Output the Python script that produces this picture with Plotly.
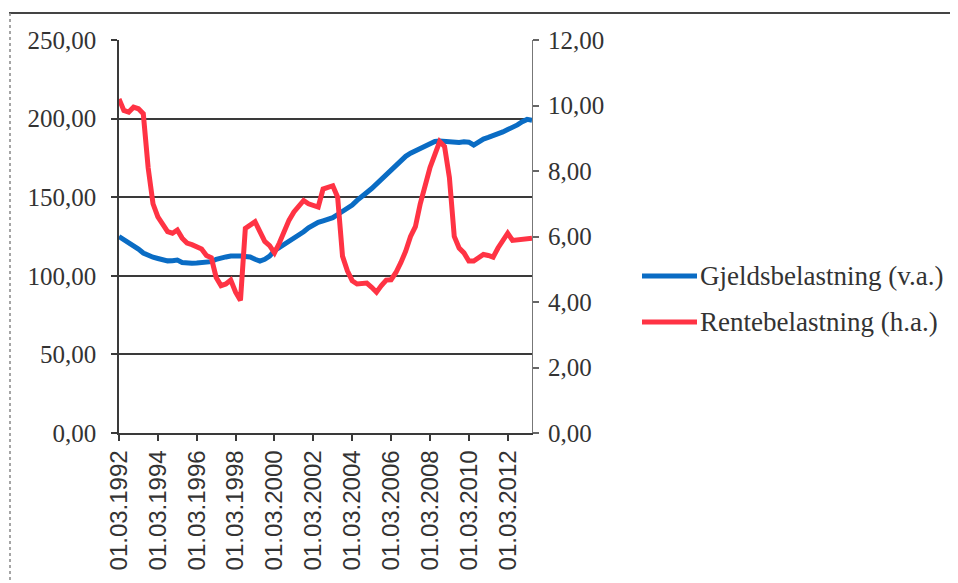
import plotly.graph_objects as go

# Quarterly category labels 01.03.1992 ... 01.06.2013
years = list(range(1992, 2014))
months = ["03", "06", "09", "12"]
categories = [f"01.{m}.{y}" for y in years for m in months][:86]

gjeld = [125, 123, 121, 119.5, 117, 114.5, 113, 111.8, 111, 110.2,
         109.5, 109.6, 110, 108.5, 108, 108, 108.1, 108.3, 108.6, 109,
         110.5, 111.5, 112, 112.6, 112.8, 112.6, 112.3, 112, 110.5, 109.4,
         110.5, 112.5, 116, 118, 120, 122, 124, 125.5, 128, 130.5,
         132.5, 134, 135, 136, 137, 139, 141, 143, 145, 148,
         151, 153, 155.5, 158.5, 161.5, 164.5, 166.5, 170, 173, 176,
         178, 179.5, 181.5, 183, 184.5, 185.5, 185.7, 185.3, 185, 184.5,
         184.8, 185.2, 185, 183.2, 185.5, 187, 188, 189, 190.5, 191.5,
         193, 194.2, 196, 198, 199.5, 199]

rente = [10.2, 9.85, 9.8, 9.95, 9.9, 9.75, 8.1, 7.0, 6.6, 6.35,
         6.15, 6.1, 6.2, 5.95, 5.8, 5.75, 5.68, 5.62, 5.42, 5.35,
         4.75, 4.5, 4.55, 4.67, 4.3, 4.05, 6.25, 6.35, 6.45, 6.15,
         5.85, 5.72, 5.5, 5.8, 6.15, 6.5, 6.75, 6.95, 7.1, 7.0,
         6.95, 6.9, 7.45, 7.5, 7.55, 7.2, 5.4, 4.95, 4.65, 4.55,
         4.55, 4.58, 4.45, 4.3, 4.5, 4.67, 4.68, 4.9, 5.2, 5.55,
         6.0, 6.3, 7.0, 7.6, 8.1, 8.5, 8.9, 8.75, 7.8, 6.0,
         5.65, 5.5, 5.25, 5.25, 5.37, 5.45, 5.42, 5.37, 5.65, 5.85,
         6.1, 5.88, 5.9, 5.93, 5.95, 5.95]

series_names = ["Gjeldsbelastning (v.a.)", "Rentebelastning (h.a.)"]
left_ticks = [0, 50, 100, 150, 200, 250]
right_ticks = [0, 2, 4, 6, 8, 10, 12]

BLUE = "#0a6cc4"
RED = "#ff3344"
GRID = "#3a3a3a"
TXT = "#333333"

# page offset (browser body margin)
OFF = 8
W, H = 958 - OFF, 583 - OFF
L, T = 119 - OFF, 40 - OFF
PW = 532 - 119
PH = 433 - 40
R = W - L - PW
B = H - T - PH


def px(xp):
    # xp: page pixel
    return (xp - 119) / PW


def py(yp):
    return (433 - yp) / PH


fig = go.Figure()
fig.add_trace(go.Scatter(x=categories, y=gjeld, mode="lines", name=series_names[0],
                         line=dict(color=BLUE, width=5), yaxis="y"))
fig.add_trace(go.Scatter(x=categories, y=rente, mode="lines", name=series_names[1],
                         line=dict(color=RED, width=5), yaxis="y2"))

tick_cats = categories[::8]

fig.update_layout(
    width=W, height=H,
    margin=dict(l=L, r=R, t=T, b=B, pad=0),
    paper_bgcolor="white", plot_bgcolor="white",
    separators=",.",
    showlegend=False,
    xaxis=dict(type="category", range=[0, len(categories) - 1],
               tickvals=tick_cats, ticktext=tick_cats, tickangle=-90,
               ticks="outside", ticklen=6, tickcolor=GRID, tickwidth=1.5,
               showline=True, linecolor=GRID, linewidth=1.5,
               showgrid=False, zeroline=False,
               tickfont=dict(family="Liberation Sans", size=24, color=TXT)),
    yaxis=dict(range=[0, 250], tickvals=left_ticks, tickformat=".2f",
               ticks="outside", ticklen=6, tickcolor=GRID, tickwidth=1.5,
               showline=True, linecolor=GRID, linewidth=1.5,
               showgrid=True, gridcolor=GRID, gridwidth=1.5, zeroline=False,
               ticklabelstandoff=10,
               tickfont=dict(family="Liberation Serif", size=25, color=TXT)),
    yaxis2=dict(range=[0, 12], tickvals=right_ticks, tickformat=".2f",
                overlaying="y", side="right", anchor="x",
                ticks="outside", ticklen=6, tickcolor="#666666", tickwidth=1.5,
                showline=True, linecolor="#777777", linewidth=1.2,
                showgrid=False, zeroline=False,
                ticklabelstandoff=4,
                tickfont=dict(family="Liberation Serif", size=25, color=TXT)),
)

# outer frame (top and left edges of the scanned chart box)
fig.add_shape(type="line", xref="paper", yref="paper",
              x0=px(9), x1=px(958), y0=py(13), y1=py(13),
              line=dict(color="#444444", width=2))
fig.add_shape(type="line", xref="paper", yref="paper",
              x0=px(10), x1=px(10), y0=py(13), y1=py(583),
              line=dict(color="#888888", width=1.5, dash="dot"))

# manual legend
for name, color, yp in [(series_names[0], BLUE, 276), (series_names[1], RED, 322)]:
    fig.add_shape(type="line", xref="paper", yref="paper",
                  x0=px(642), x1=px(697), y0=py(yp), y1=py(yp),
                  line=dict(color=color, width=5))
    fig.add_annotation(xref="paper", yref="paper", x=px(698), y=py(yp),
                       text=name, showarrow=False, xanchor="left", yanchor="middle",
                       font=dict(family="Liberation Serif", size=27, color=TXT))

fig.write_html("out.html")
